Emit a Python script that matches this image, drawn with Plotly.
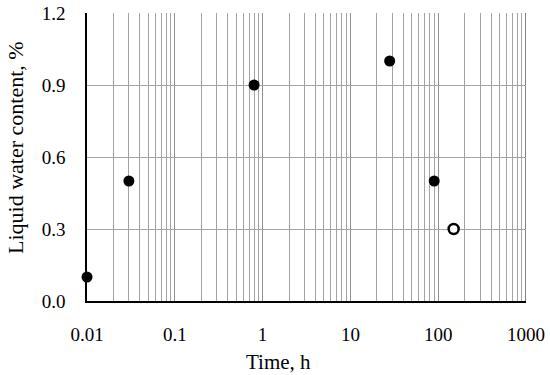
import plotly.graph_objects as go

time_filled = [0.01, 0.03, 0.8, 28, 90]
lwc_filled = [0.1, 0.5, 0.9, 1.0, 0.5]
time_open = [150]
lwc_open = [0.3]

x_ticks = [0.01, 0.1, 1, 10, 100, 1000]
x_ticktext = ["0.01", "0.1", "1", "10", "100", "1000"]
y_ticks = [0.0, 0.3, 0.6, 0.9, 1.2]

x_title = "Time, h"
y_title = "Liquid water content, %"

minor_vals = [m * d for d in [0.01, 0.1, 1, 10, 100] for m in range(2, 10)]

font = "Liberation Serif, DejaVu Serif, serif"
W, H = 550, 375
L, R, T, B = 87, 24, 13, 74

fig = go.Figure()
fig.add_trace(go.Scatter(x=time_filled, y=lwc_filled, mode="markers",
                         marker=dict(size=11, color="black", line=dict(width=0)),
                         cliponaxis=False, showlegend=False))
fig.add_trace(go.Scatter(x=time_open, y=lwc_open, mode="markers",
                         marker=dict(size=10, color="white", line=dict(width=2.5, color="black")),
                         cliponaxis=False, showlegend=False))

pw = W - L - R
ph = H - T - B

fig.add_annotation(text=x_title, xref="paper", yref="paper",
                   x=(278 - L) / pw, y=-(362 - (H - B)) / ph,
                   showarrow=False, xanchor="center", yanchor="middle",
                   font=dict(family=font, size=21, color="black"))
fig.add_annotation(text=y_title, xref="paper", yref="paper",
                   x=-(L - 15) / pw, y=(H - B - 148) / ph, textangle=-90,
                   showarrow=False, xanchor="center", yanchor="middle",
                   font=dict(family=font, size=22, color="black"))

# darker right border line at the last decade
fig.add_shape(type="line", xref="x", yref="paper", x0=x_ticks[-1], x1=x_ticks[-1],
              y0=0, y1=1, line=dict(color="#5a5a5a", width=1.5), layer="below")

fig.update_layout(
    width=W, height=H,
    margin=dict(l=L, r=R, t=T, b=B, autoexpand=False),
    paper_bgcolor="white", plot_bgcolor="white",
    font=dict(family=font, size=19, color="black"),
    xaxis=dict(type="log", range=[-2, 3], tickvals=x_ticks, ticktext=x_ticktext,
               showgrid=True, gridcolor="#8f8f8f", gridwidth=1,
               minor=dict(tickvals=minor_vals, showgrid=True, gridcolor="#a3a3a3", gridwidth=1, ticks=""),
               showline=True, linecolor="black", linewidth=1.5, mirror=False,
               ticks="", ticklabelstandoff=15, zeroline=False, automargin=False,
               tickfont=dict(family=font, size=19, color="black")),
    yaxis=dict(range=[0, 1.2], tickvals=y_ticks, tickformat=".1f",
               showgrid=True, gridcolor="#a3a3a3", gridwidth=1,
               showline=True, linecolor="black", linewidth=1.5,
               ticks="", ticklabelstandoff=16, zeroline=False, automargin=False,
               tickfont=dict(family=font, size=19, color="black")),
)

fig.write_html("out.html", config={"displayModeBar": False},
               post_script="document.body.style.margin='0';")
